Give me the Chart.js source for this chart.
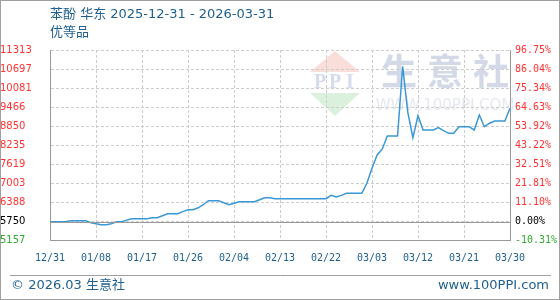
<!DOCTYPE html>
<html>
<head>
<meta charset="utf-8">
<script src="https://cdn.jsdelivr.net/npm/chart.js@4/dist/chart.umd.min.js"></script>
<style>
    html, body { margin: 0; padding: 0; background: #fff; }
    #wrap { position: relative; width: 560px; height: 300px; }
</style>
</head>
<body>
<div id="wrap"><canvas id="priceChart" width="560" height="300"></canvas></div>
<script>
// 苯酚 华东 daily price, 2025-12-31 .. 2026-03-31
const titleText = '苯酚 华东 2025-12-31 - 2026-03-31';
const subTitleText = '优等品';
const basePrice = 5750;

const prices = [
    5750, 5750, 5750, 5750, 5782, 5782, 5782, 5782, 5718, 5685,
    5653, 5653, 5685, 5750, 5750, 5800, 5847, 5847, 5847, 5847,
    5880, 5880, 5945, 6009, 6009, 6009, 6075, 6139, 6139, 6200,
    6300, 6430, 6430, 6430, 6365, 6301, 6350, 6398, 6398, 6398,
    6398, 6460, 6528, 6528, 6495, 6495, 6495, 6495, 6495, 6495,
    6495, 6495, 6495, 6495, 6495, 6604, 6550, 6604, 6669, 6669,
    6669, 6669, 6994, 7480, 7911, 8100, 8527, 8527, 8527, 10780,
    9300, 8472, 9184, 8721, 8721, 8721, 8800, 8700, 8614, 8614,
    8828, 8828, 8828, 8721, 9207, 8828, 8940, 9013, 9013, 9013,
    9424
];

const xTickIndex = [0, 9, 18, 27, 36, 45, 54, 63, 72, 81, 90];
const xTickLabels = ['12/31', '01/08', '01/17', '01/26', '02/04', '02/13', '02/22', '03/03', '03/12', '03/21', '03/30'];

const yTicks = [5157, 5750, 6388, 7003, 7619, 8235, 8850, 9466, 10081, 10697, 11313];
const pctLabels = ['-10.31%', '0.00%', '11.10%', '21.81%', '32.51%', '43.22%', '53.92%', '64.63%', '75.34%', '86.04%', '96.75%'];

// one label per day for the category axis
const dayLabels = [];
const start = new Date(2025, 11, 31);
for (let i = 0; i < prices.length; i++) {
    const d = new Date(start.getTime() + i * 86400000);
    dayLabels.push(String(d.getMonth() + 1).padStart(2, '0') + '/' + String(d.getDate()).padStart(2, '0'));
}

function tickColor(ctx) {
    const v = yTicks[ctx.index];
    if (v === basePrice) return '#000';
    return v < basePrice ? '#33aa33' : '#ff3333';
}

const blue = '#1f5f8f';
const textFont = '13px "DejaVu Sans", "Noto Sans CJK SC"';

// watermark, frame, title and footer
const decor = {
    id: 'decor',
    beforeDraw(chart) {
        const ctx = chart.ctx;
        ctx.save();
        ctx.fillStyle = '#fff';
        ctx.fillRect(0, 0, chart.width, chart.height);

        // PPI logo
        ctx.fillStyle = 'rgba(245, 195, 188, 0.55)';
        ctx.beginPath();
        ctx.moveTo(335, 51); ctx.lineTo(360, 72); ctx.lineTo(310, 72); ctx.closePath();
        ctx.fill();
        ctx.fillStyle = 'rgba(195, 232, 200, 0.6)';
        ctx.beginPath();
        ctx.moveTo(310, 93); ctx.lineTo(360, 93); ctx.lineTo(335, 116); ctx.closePath();
        ctx.fill();
        ctx.fillStyle = 'rgba(195, 205, 228, 0.7)';
        ctx.font = 'bold 20px "Liberation Serif"';
        ctx.textAlign = 'center';
        ctx.textBaseline = 'middle';
        ['P', 'P', 'I'].forEach((c, i) => ctx.fillText(c, 320 + i * 15, 83));

        ctx.fillStyle = 'rgba(200, 207, 225, 0.8)';
        ctx.font = 'bold 36px "Noto Sans CJK SC"';
        ['生', '意', '社'].forEach((c, i) => ctx.fillText(c, 399 + i * 46, 71));
        ctx.fillStyle = 'rgba(222, 226, 234, 0.8)';
        ctx.font = '15px "DejaVu Sans"';
        ctx.fillText('WWW.100PPI.COM', 445, 106);
        ctx.restore();
    },
    afterDraw(chart) {
        const ctx = chart.ctx;
        const y = chart.scales.y;
        const a = chart.chartArea;
        ctx.save();
        // 0% base line
        const by = Math.round(y.getPixelForValue(basePrice)) + 0.5;
        ctx.strokeStyle = '#999';
        ctx.lineWidth = 1;
        ctx.beginPath();
        ctx.moveTo(a.left, by); ctx.lineTo(a.right, by);
        ctx.stroke();

        // outer frame and footer rule
        ctx.strokeStyle = '#a0a0a0';
        ctx.strokeRect(0.5, 0.5, chart.width - 1, chart.height - 1);
        ctx.beginPath();
        ctx.moveTo(10, 275.5); ctx.lineTo(551, 275.5);
        ctx.stroke();

        ctx.fillStyle = blue;
        ctx.textBaseline = 'middle';
        ctx.textAlign = 'left';
        ctx.font = textFont;
        ctx.fillText(titleText, 50, 15);
        ctx.fillText(subTitleText, 50, 33);
        ctx.fillText('© 2026.03 生意社', 11, 286);
        ctx.textAlign = 'right';
        ctx.fillText('www.100PPI.com', 549, 286);
        ctx.restore();
    }
};

new Chart(document.getElementById('priceChart'), {
    type: 'line',
    data: {
        labels: dayLabels,
        datasets: [{
            data: prices,
            borderColor: '#3a98d6',
            borderWidth: 1.5,
            pointRadius: 0,
            tension: 0,
            fill: false
        }]
    },
    options: {
        responsive: false,
        animation: false,
        layout: { padding: { top: 50, left: 0, right: 0, bottom: 0 } },
        plugins: {
            legend: { display: false },
            tooltip: { enabled: false }
        },
        scales: {
            x: {
                type: 'category',
                offset: false,
                afterBuildTicks: (scale) => { scale.ticks = xTickIndex.map(v => ({ value: v })); },
                afterFit: (scale) => { scale.height = 60; },
                grid: { color: '#cccccc', drawTicks: false },
                border: { display: true, color: '#999', dash: [3, 2] },
                ticks: {
                    autoSkip: false,
                    maxRotation: 0,
                    padding: 12,
                    color: blue,
                    font: { family: 'DejaVu Sans Mono', size: 10 },
                    callback: (v, i) => xTickLabels[i]
                }
            },
            y: {
                position: 'left',
                min: yTicks[0],
                max: yTicks[yTicks.length - 1],
                afterBuildTicks: (scale) => { scale.ticks = yTicks.map(v => ({ value: v })); },
                afterFit: (scale) => { scale.width = 50; },
                grid: { color: '#cccccc', drawTicks: false },
                border: { display: true, color: '#999', dash: [3, 2] },
                ticks: {
                    crossAlign: 'far',
                    padding: 5,
                    color: tickColor,
                    font: { family: 'DejaVu Sans', size: 10 },
                    callback: (v, i) => String(yTicks[i])
                }
            },
            y2: {
                position: 'right',
                min: yTicks[0],
                max: yTicks[yTicks.length - 1],
                afterBuildTicks: (scale) => { scale.ticks = yTicks.map(v => ({ value: v })); },
                afterFit: (scale) => { scale.width = 50; },
                grid: { display: false, drawTicks: false },
                border: { display: true, color: '#999' },
                ticks: {
                    padding: 5,
                    color: tickColor,
                    font: { family: 'DejaVu Sans Mono', size: 10 },
                    callback: (v, i) => pctLabels[i]
                }
            }
        }
    },
    plugins: [decor]
});
</script>
</body>
</html>
